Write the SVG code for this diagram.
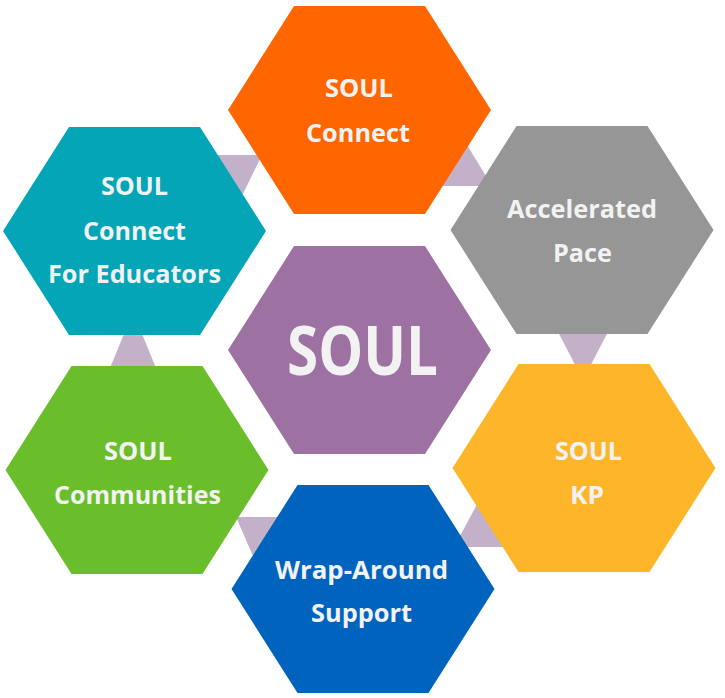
<svg xmlns="http://www.w3.org/2000/svg" xmlns:xlink="http://www.w3.org/1999/xlink" width="725" height="698" viewBox="0 0 725 698">
  <defs>
    <polygon id="hex" points="-131.5,0 -65.5,-104 65.5,-104 131.5,0 65.5,104 -65.5,104"/>
    <style>
      .lbl { font-family: "Open Sans", "Liberation Sans", sans-serif; font-weight: 700; font-size: 25px; fill: #F2F2F2; text-anchor: middle; }
      .big { font-size: 68px; }
      .tri { fill: #C2B1C8; }
    </style>
  </defs>
  <rect width="725" height="698" fill="#FFFFFF"/>
  <g id="connectors">
    <polygon class="tri" points="205,155 262,155 240,200"/>
    <polygon class="tri" points="464,140 436,186 492,186"/>
    <polygon class="tri" points="133,312 110,368 156,368"/>
    <polygon class="tri" points="556,328 610,328 583,380"/>
    <polygon class="tri" points="236,517 280,517 253,556"/>
    <polygon class="tri" points="481,497 454,547 508,547"/>
  </g>
  <g id="soul-connect">
    <use xlink:href="#hex" href="#hex" transform="translate(359.5,110)" fill="#FF6600"/>
    <text class="lbl" x="359" y="97" textLength="68" lengthAdjust="spacingAndGlyphs">SOUL</text>
    <text class="lbl" x="358" y="142" textLength="104" lengthAdjust="spacingAndGlyphs">Connect</text>
  </g>
  <g id="soul-connect-educators">
    <use xlink:href="#hex" href="#hex" transform="translate(134.5,231)" fill="#03A5B7"/>
    <text class="lbl" x="134.5" y="195" textLength="67" lengthAdjust="spacingAndGlyphs">SOUL</text>
    <text class="lbl" x="134.5" y="240" textLength="103" lengthAdjust="spacingAndGlyphs">Connect</text>
    <text class="lbl" x="134.5" y="283" textLength="173" lengthAdjust="spacingAndGlyphs">For Educators</text>
  </g>
  <g id="accelerated-pace">
    <use xlink:href="#hex" href="#hex" transform="translate(582,230)" fill="#969696"/>
    <text class="lbl" x="582" y="218" textLength="150" lengthAdjust="spacingAndGlyphs">Accelerated</text>
    <text class="lbl" x="582.5" y="262" textLength="59" lengthAdjust="spacingAndGlyphs">Pace</text>
  </g>
  <g id="soul-center">
    <use xlink:href="#hex" href="#hex" transform="translate(359.5,350)" fill="#9D71A2"/>
    <text class="lbl big" x="362.5" y="375" textLength="151" lengthAdjust="spacingAndGlyphs">SOUL</text>
  </g>
  <g id="soul-communities">
    <use xlink:href="#hex" href="#hex" transform="translate(137,470)" fill="#6BBE2B"/>
    <text class="lbl" x="138" y="460" textLength="68" lengthAdjust="spacingAndGlyphs">SOUL</text>
    <text class="lbl" x="137.5" y="504" textLength="167" lengthAdjust="spacingAndGlyphs">Communities</text>
  </g>
  <g id="soul-kp">
    <use xlink:href="#hex" href="#hex" transform="translate(584,468)" fill="#FDB62A"/>
    <text class="lbl" x="588.5" y="460" textLength="67" lengthAdjust="spacingAndGlyphs">SOUL</text>
    <text class="lbl" x="587" y="504" textLength="34" lengthAdjust="spacingAndGlyphs">KP</text>
  </g>
  <g id="wrap-around-support">
    <use xlink:href="#hex" href="#hex" transform="translate(363,589)" fill="#0063BE"/>
    <text class="lbl" x="361.5" y="579" textLength="173" lengthAdjust="spacingAndGlyphs">Wrap-Around</text>
    <text class="lbl" x="361.5" y="622" textLength="101" lengthAdjust="spacingAndGlyphs">Support</text>
  </g>
</svg>
